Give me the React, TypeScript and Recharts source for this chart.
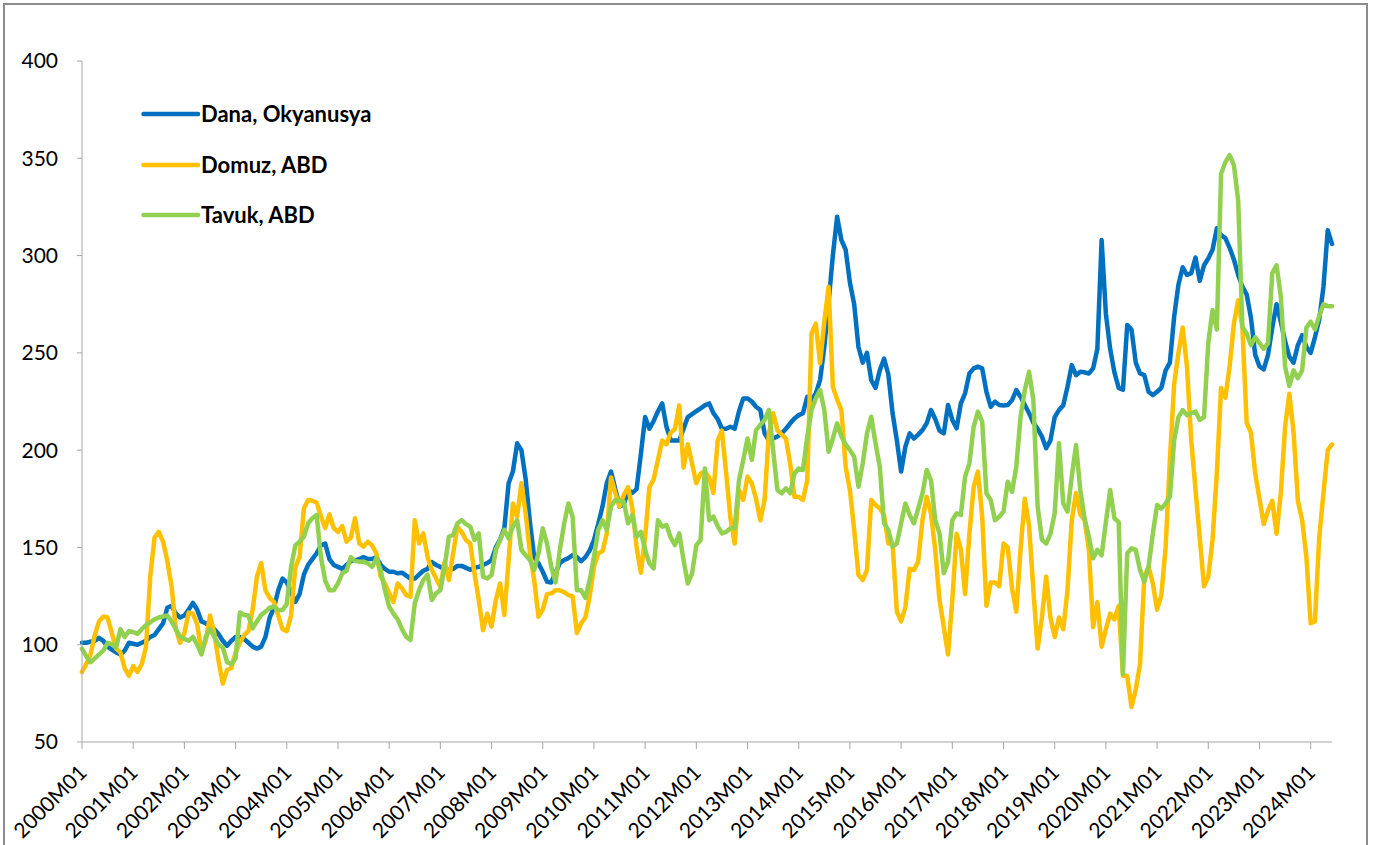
import React from "react";
import { LineChart, Line, XAxis, YAxis, Legend } from "recharts";

const FONT = "Lato, 'Open Sans', 'Liberation Sans', sans-serif";

const YEARS = [
  "2000", "2001", "2002", "2003", "2004", "2005", "2006", "2007", "2008", "2009", "2010", "2011",
  "2012", "2013", "2014", "2015", "2016", "2017", "2018", "2019", "2020", "2021", "2022", "2023", "2024",
];
const MONTH_CODES = ["M01", "M02", "M03", "M04", "M05", "M06", "M07", "M08", "M09", "M10", "M11", "M12"];
const LAST_YEAR_MONTHS = 6;

const CATEGORIES: string[] = [];
YEARS.forEach((y, yi) => {
  const n = yi === YEARS.length - 1 ? LAST_YEAR_MONTHS : 12;
  for (let m = 0; m < n; m++) CATEGORIES.push(y + MONTH_CODES[m]);
});

const X_TICKS = YEARS.map((y) => y + "M01");
const Y_TICKS = [50, 100, 150, 200, 250, 300, 350, 400];

// Dana, Okyanusya (beef)
const DANA = [
  101, 101, 101.5, 102, 103.5, 102, 99, 97.5, 96, 95, 97, 101,
  100.5, 100, 101, 102, 104, 105, 108, 111, 119, 120, 116, 114,
  115, 118, 121.5, 118, 112, 111, 109.5, 108, 105.5, 102, 99.5, 102,
  104, 104, 103, 101, 99, 98, 99, 104, 114, 119, 128, 134,
  132, 127, 122, 126, 136, 141, 144, 147, 151, 152, 144, 141,
  140, 139, 141, 143, 143.5, 144, 145, 144, 144, 145, 141, 139,
  137.5, 137.5, 136.7, 137, 135.5, 134, 134, 136, 138, 139, 142.5, 141,
  140, 138.5, 138.5, 139, 140.5, 140.5, 139.5, 138.5, 139.5, 140, 141, 142,
  143.5, 150, 154, 160, 183, 189, 203.5, 200, 185, 163, 145, 141.8,
  137.5, 132.4, 132, 137, 142, 143.5, 144.5, 146, 145, 143, 145, 148.5,
  153.8, 162, 171, 183, 189, 180, 171, 172, 179.5, 178, 180, 198,
  217, 211, 215, 220, 224, 212, 205, 205, 205, 211, 217, 218.5,
  220, 221.5, 223, 224, 219, 216, 211, 211, 212, 211, 220, 226.6,
  226.6, 225, 222.3, 220.6, 208.6, 205, 206, 207, 208.6, 211, 213.8, 216.3,
  218, 219, 227.4, 225.7, 229.2, 236, 253, 276, 300, 320, 308, 303,
  286, 275, 253, 245, 250, 236, 232, 241, 247, 239, 219, 205,
  189, 201.8, 208.6, 206, 208, 210.3, 213.8, 220.6, 216, 210, 208.6, 223.2,
  215.5, 211.2, 224, 229.2, 239.4, 242, 242.9, 242, 230, 222.3, 224.9, 223.2,
  223, 223.2, 225.7, 230.9, 227.4, 223.2, 219, 214, 211, 207, 201, 205,
  217, 220.6, 223, 232.6, 243.7, 238.5, 240.3, 240, 239.4, 242, 252, 308,
  270, 252, 240, 232, 231, 264.3, 262, 245, 239.4, 238.6, 230, 228.3,
  230, 232, 241, 245, 268.6, 285, 294, 290, 291, 299, 287, 295,
  298.5, 303, 314, 310.5, 309, 304, 298, 290, 284, 280, 268, 249,
  243, 241.5, 249, 263, 275, 266, 256, 248, 245, 254, 259, 253,
  250, 258, 267, 284, 313, 306,
];

// Domuz, ABD (pork)
const DOMUZ = [
  86, 90, 95, 105, 112, 114.5, 114, 106, 98, 96, 88, 84,
  89, 86, 90, 99, 135, 155, 158, 153, 143, 130, 108, 101,
  106, 116.5, 116, 110.5, 96.5, 102, 115, 106, 92, 80, 87, 88,
  96, 101, 105, 107, 118, 135, 142, 128, 124, 122, 115, 108,
  107, 115, 140, 145, 170, 174.4, 174, 173, 166, 160, 167, 160,
  158, 161, 153, 155, 165, 152, 150.4, 153, 151, 147, 135, 131.5,
  126.4, 122, 131.5, 129, 125.5, 124.7, 164, 152, 157.2, 145, 138.4, 134,
  129.8, 142.7, 133.2, 147, 160.7, 158, 153.8, 152, 136.7, 123, 107.5, 116,
  109.3, 123, 131.5, 115.3, 143.5, 172.6, 165.8, 183, 167.5, 147, 133.2, 114.4,
  118, 126, 126.4, 128, 128, 127, 125.5, 125, 106, 111, 114, 125,
  140, 147, 148, 157, 186, 178, 171, 177, 181, 170, 150, 137,
  155.5, 181, 185, 195, 205, 203, 209, 211, 223, 191, 203, 193,
  183, 188, 189, 186, 178, 205, 210, 188, 165, 152, 179.5, 174.4,
  186.4, 183, 175, 164, 174.4, 208.6, 219, 210.3, 208, 206, 193, 176,
  176, 174.4, 184.6, 260, 265, 244.6, 266, 284, 232.6, 226, 220.6, 191.5,
  179.5, 159, 135.8, 133.2, 138.4, 174.4, 171.8, 170, 166.7, 152, 152, 117,
  112, 119.5, 139, 138.4, 142.7, 164, 176, 167.5, 148.7, 123, 109, 95,
  123, 157, 149, 126, 157, 181, 189, 166, 120, 132, 132, 130,
  152, 150, 129, 117, 149, 175, 161, 128, 98, 114, 135, 114,
  104, 114, 108, 128, 164, 178, 167, 164, 149, 109, 122, 99,
  108, 116, 113, 120, 84, 84, 68, 77, 90, 135, 140, 131.5,
  118, 125.5, 150, 195, 234, 250, 263, 243, 205, 180, 155, 130,
  135, 154, 188, 232, 227, 243, 265, 277, 263, 214, 209, 188,
  175, 162, 169, 174, 157, 178, 212, 229, 209, 174, 164, 145,
  111, 112, 155, 178, 200, 203,
];

// Tavuk, ABD (chicken)
const TAVUK = [
  98, 94, 91, 93, 95, 97, 101, 100.3, 98.6, 108, 104, 107,
  106.5, 105.5, 108, 110, 111.5, 113, 114, 114.5, 115, 112, 108, 104,
  103, 102, 104, 100, 95, 104, 108, 104, 100, 98.6, 91, 90,
  93, 116.6, 115.3, 115, 108.4, 112, 115.3, 117, 119, 119.5, 117.8, 117.8,
  121, 140, 151, 153, 155.5, 162.4, 165, 166.7, 145, 133, 128, 128,
  131.5, 136.7, 138, 145, 143, 142.7, 142.7, 141.8, 140, 144.4, 138.4, 128,
  119.5, 116, 113, 108, 104, 102.4, 121.3, 128, 133.2, 136, 123, 126.4,
  128, 140, 155.5, 156.4, 162.4, 164, 162, 160.7, 153.8, 157.2, 135, 134,
  135.8, 148.7, 153.8, 159, 154.7, 160.7, 164, 148.7, 146, 143.5, 138.4, 147,
  159.8, 152, 140, 132, 148.7, 162, 172.6, 165.8, 128, 128, 124, 133.2,
  145, 159, 164, 159, 171, 174.4, 174, 173.5, 162.4, 166.7, 155.5, 158,
  148.7, 141.8, 139.2, 164, 160.7, 161.5, 155, 151.2, 157.2, 143.5, 131.5, 136.7,
  151.2, 153.8, 190.6, 164, 165.8, 161, 157.2, 158, 159.8, 160, 184.6, 195,
  206, 195, 210.3, 213, 215.5, 220.6, 200, 179.5, 177.8, 180.4, 177.8, 188,
  190.6, 189.8, 207, 220.6, 226.6, 230.9, 220.6, 199.2, 206, 213.8, 207, 203,
  200, 196.6, 181.2, 193.2, 208.6, 217.2, 203.5, 191.5, 162.4, 159, 150.4, 152,
  162.4, 172.6, 166.7, 162.4, 170, 177.8, 189.8, 184.6, 164, 157.2, 136.7, 142.7,
  164, 167.5, 166.7, 186.4, 193.2, 212, 219.8, 214.6, 177.8, 174.4, 164, 165.8,
  168.4, 183.8, 178.5, 191.5, 217.2, 230.9, 240.3, 225.7, 171, 154, 152, 157,
  167.5, 203.5, 172.6, 168.4, 186.4, 202.6, 179.5, 165, 155.5, 144.4, 148.7, 146,
  163, 179.5, 165, 163, 85, 147, 149.5, 148.7, 138.4, 132.4, 140, 157,
  171.8, 170, 172.6, 176, 205, 217, 220.6, 218, 219, 219.8, 215.5, 217,
  255, 272, 262, 342, 348, 351.6, 346.5, 328.5, 263.4, 260, 254, 258,
  255, 252, 255, 291, 295, 279, 243, 233, 241, 237, 241, 263,
  266, 262, 269, 275, 274, 274,
];

const SERIES = [
  { key: "dana", name: "Dana, Okyanusya", color: "#0070C0", values: DANA },
  { key: "domuz", name: "Domuz, ABD", color: "#FFC000", values: DOMUZ },
  { key: "tavuk", name: "Tavuk, ABD", color: "#92D050", values: TAVUK },
];

const DATA = CATEGORIES.map((c, i) => {
  const row: Record<string, any> = { month: c };
  SERIES.forEach((s) => {
    row[s.key] = s.values[i];
  });
  return row;
});

const AXIS_COLOR = "#a6a6a6";

const XTick = (props: any) => {
  const { x, y, payload } = props;
  const ax = x + 6;
  const ay = y + 25;
  return (
    <text
      x={ax}
      y={ay}
      transform={`rotate(-45, ${ax}, ${ay})`}
      textAnchor="end"
      fontSize={21}
      fontFamily={FONT}
      fill="#000"
    >
      {payload.value}
    </text>
  );
};

const renderLegend = (props: any) => {
  const payload = props.payload || [];
  return (
    <div style={{ display: "flex", flexDirection: "column" }}>
      {payload.map((entry: any, idx: number) => (
        <div key={idx} style={{ display: "flex", alignItems: "center", height: 50.5 }}>
          <svg width={60} height={10} style={{ display: "block" }}>
            <line x1={2.5} y1={5} x2={57} y2={5} stroke={entry.color} strokeWidth={4.5} strokeLinecap="round" />
          </svg>
          <span
            style={{
              fontFamily: FONT,
              fontWeight: 700,
              fontSize: 22,
              color: "#000",
              whiteSpace: "nowrap",
              lineHeight: 1,
            }}
          >
            {entry.value}
          </span>
        </div>
      ))}
    </div>
  );
};

export default function App() {
  return (
    <div
      style={{
        position: "absolute",
        left: 0,
        top: 0,
        width: 1381,
        height: 845,
        overflow: "hidden",
        background: "#fff",
      }}
    >
      <div
        style={{
          position: "absolute",
          left: 3,
          top: 3,
          width: 1365,
          height: 900,
          border: "2px solid #8c8c8c",
          boxSizing: "border-box",
        }}
      />
      <div style={{ position: "absolute", left: 0, top: 0 }}>
        <LineChart
          width={1381}
          height={845}
          data={DATA}
          margin={{ top: 61, right: 49, left: 22, bottom: 0 }}
        >
          <XAxis
            dataKey="month"
            ticks={X_TICKS}
            interval={0}
            height={103}
            tickSize={7}
            tickMargin={0}
            tick={<XTick />}
            axisLine={{ stroke: AXIS_COLOR, strokeWidth: 1 }}
            tickLine={{ stroke: AXIS_COLOR, strokeWidth: 1 }}
          />
          <YAxis
            type="number"
            domain={[50, 400]}
            ticks={Y_TICKS}
            interval={0}
            width={60}
            tickSize={5}
            tickMargin={19}
            tick={{ fontSize: 21, fontFamily: FONT, fill: "#000" }}
            axisLine={{ stroke: AXIS_COLOR, strokeWidth: 1 }}
            tickLine={{ stroke: AXIS_COLOR, strokeWidth: 1 }}
          />
          <Legend
            layout="vertical"
            align="center"
            verticalAlign="middle"
            content={renderLegend}
            wrapperStyle={{ position: "absolute", left: 141, top: 89, width: "auto", height: "auto" }}
          />
          {SERIES.map((s) => (
            <Line
              key={s.key}
              type="linear"
              dataKey={s.key}
              name={s.name}
              stroke={s.color}
              strokeWidth={4.5}
              strokeLinejoin="round"
              strokeLinecap="round"
              dot={false}
              activeDot={false}
              isAnimationActive={false}
            />
          ))}
        </LineChart>
      </div>
    </div>
  );
}
